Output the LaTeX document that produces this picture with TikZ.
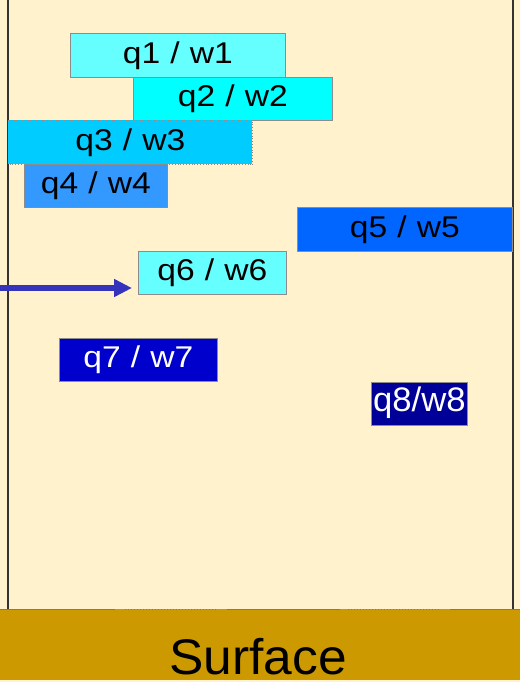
\documentclass[tikz,border=0pt]{standalone}
\usepackage{fontspec}
\setmainfont{Liberation Sans}
\usetikzlibrary{arrows.meta}
\definecolor{cream}{HTML}{FFF2CC}
\definecolor{wallgray}{HTML}{333333}
\definecolor{edgegray}{HTML}{8C8C8C}
\definecolor{ochre}{HTML}{CC9900}
\definecolor{rimgray}{HTML}{8A7A50}
\definecolor{arrowblue}{HTML}{3333BB}
\definecolor{cyanA}{HTML}{66FFFF}
\definecolor{cyanB}{HTML}{00FFFF}
\definecolor{cyanC}{HTML}{00CCFF}
\definecolor{blueD}{HTML}{3399FF}
\definecolor{blueE}{HTML}{0066FF}
\definecolor{blueF}{HTML}{0000CC}
\definecolor{blueG}{HTML}{000099}
% label of one particle: charge / weight, set a little wide
\newcommand{\qw}[2]{\scalebox{1.12}[1]{q#1\hspace{0.3em}/\hspace{0.3em}w#2}}
\begin{document}
\begin{tikzpicture}[x=1pt,y=-1pt,
  particle/.style={draw=edgegray, line width=0.8pt, inner sep=0pt,
    anchor=north west, text height=20pt, text depth=4pt,
    font=\fontsize{30}{30}\selectfont},
  wall/.style={draw=wallgray, line width=2pt},
  push/.style={draw=arrowblue, line width=6pt,
    -{Triangle[length=18pt,width=17pt]}, shorten >=6pt}]
  % page and background
  \fill[cream] (0,0) rectangle (520,682);
  \useasboundingbox (0,0) rectangle (520,682);
  % container walls
  \draw[wall] (8,0) -- (8,609);
  \draw[wall] (513,0) -- (513,609);
  % surface
  \fill[ochre] (0,609) rectangle (520,680);
  \draw[rimgray, line width=1pt] (0,609) -- (115,609);
  \draw[rimgray, line width=1pt, dotted] (125,609) -- (218,609);
  \draw[rimgray, line width=1pt] (227,609) -- (340,609);
  \draw[rimgray, line width=1pt, dotted] (348,609) -- (440,609);
  \draw[rimgray, line width=1pt] (450,609) -- (520,609);
  \node[font=\fontsize{50}{50}\selectfont, anchor=base, inner sep=0pt] (surface) at (258,674) {\scalebox{1.03}[1]{Surface}};
  % adsorbed particles
  \node[particle, fill=cyanA, minimum width=215pt, minimum height=44pt] (q1) at (70,33) {\qw{1}{1}};
  \node[particle, fill=cyanB, minimum width=199pt, minimum height=43pt] (q2) at (133,77) {\qw{2}{2}};
  \node[particle, fill=cyanC, draw=none, minimum width=244pt, minimum height=44pt] (q3) at (8,120) {\qw{3}{3}};
  \draw[edgegray, line width=0.8pt, dotted] (q3.north west) -- (q3.north east) -- (q3.south east) -- (q3.south west);
  \node[particle, fill=blueD, minimum width=143pt, minimum height=43pt] (q4) at (24,164) {\qw{4}{4}};
  \node[particle, fill=blueE, minimum width=215pt, minimum height=44pt] (q5) at (297,207) {\qw{5}{5}};
  \node[particle, fill=cyanA, minimum width=148pt, minimum height=43pt] (q6) at (138,251) {\qw{6}{6}};
  \node[particle, fill=blueF, text=white, minimum width=158pt, minimum height=43pt] (q7) at (59,338) {\qw{7}{7}};
  \node[particle, fill=blueG, text=white, minimum width=96pt, minimum height=43pt,
    font=\fontsize{34}{34}\selectfont] (q8) at (371,382) {\scalebox{1.02}[1]{q8/w8}};
  % incoming particle
  \coordinate (src) at (0,288);
  \draw[push] (src) -- (src -| q6.west);
\end{tikzpicture}
\end{document}
